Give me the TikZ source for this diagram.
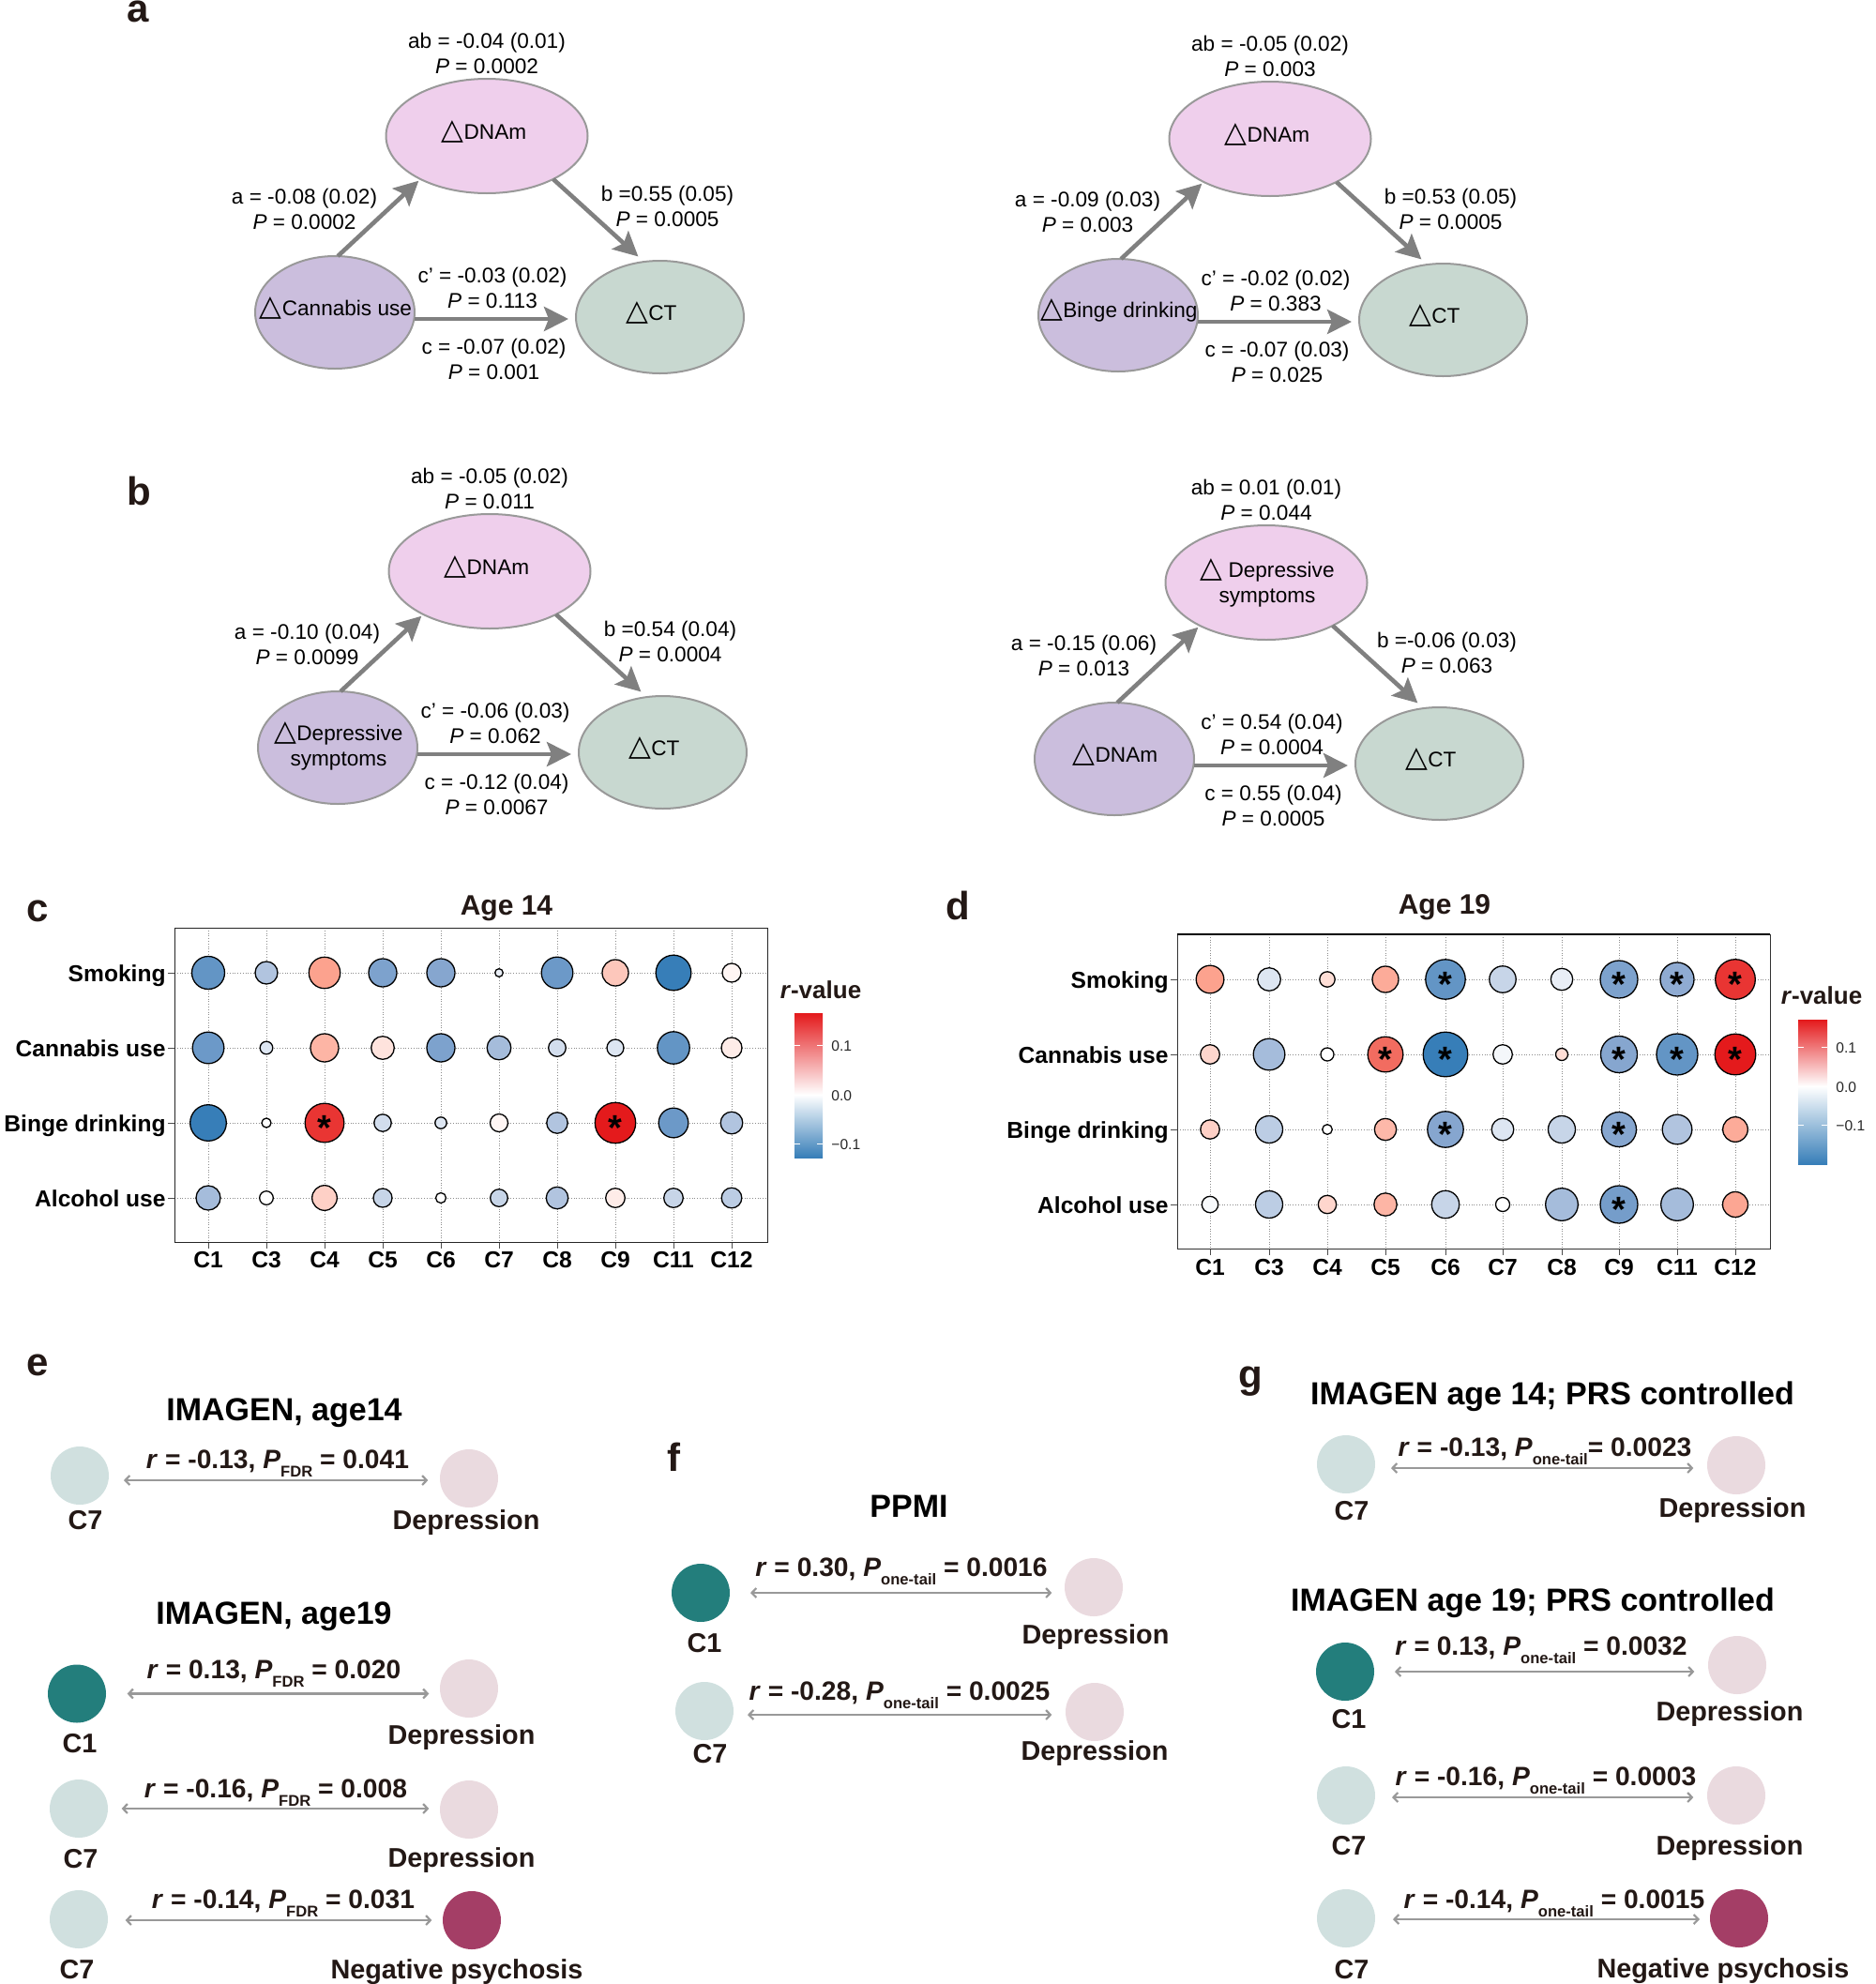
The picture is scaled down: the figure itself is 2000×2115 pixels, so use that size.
\documentclass[tikz,border=0pt]{standalone}
\usepackage{fontspec}
\setmainfont{Liberation Sans}
\newfontfamily\djv{DejaVu Sans}
\usetikzlibrary{arrows.meta,shapes.geometric,calc}
\definecolor{ink}{HTML}{231815}
\definecolor{bm}{HTML}{8FABD2}\definecolor{bb}{HTML}{377EB8}
\definecolor{rm}{HTML}{FCA28E}\definecolor{rr}{HTML}{E41A1C}
\colorlet{w}{white}
\colorlet{b3}{bm!6!white}\colorlet{b5}{bm!10!white}\colorlet{b10}{bm!20!white}\colorlet{b15}{bm!30!white}\colorlet{b20}{bm!40!white}\colorlet{b25}{bm!50!white}\colorlet{b30}{bm!60!white}\colorlet{b35}{bm!70!white}\colorlet{b40}{bm!80!white}\colorlet{b50}{bm}
\colorlet{b55}{bb!10!bm}\colorlet{b60}{bb!20!bm}\colorlet{b65}{bb!30!bm}\colorlet{b70}{bb!40!bm}\colorlet{b75}{bb!50!bm}\colorlet{b100}{bb}
\colorlet{r2}{rm!4!white}\colorlet{r5}{rm!10!white}\colorlet{r10}{rm!20!white}\colorlet{r15}{rm!30!white}\colorlet{r18}{rm!36!white}\colorlet{r22}{rm!44!white}\colorlet{r25}{rm!50!white}\colorlet{r30}{rm!60!white}\colorlet{r38}{rm!76!white}\colorlet{r40}{rm!80!white}\colorlet{r45}{rm!90!white}\colorlet{r48}{rm!96!white}\colorlet{r50}{rm}
\colorlet{r70}{rr!40!rm}\colorlet{r90}{rr!80!rm}\colorlet{r100}{rr}
\definecolor{pinkn}{HTML}{EFCFEC}\definecolor{purpn}{HTML}{CBBEDD}\definecolor{greenn}{HTML}{C8D8D0}
\definecolor{cseven}{HTML}{D0E0DF}\definecolor{cone}{HTML}{237E7C}\definecolor{depn}{HTML}{EADADF}\definecolor{negn}{HTML}{A43E66}
\newcommand{\dt}{{\djv\fontsize{15.5}{13.5}\selectfont △}}
\newcommand{\pv}[1]{\textit{P} = #1}
\tikzset{
 ell/.style={ellipse,draw=black!40,line width=1pt,inner sep=0pt,outer sep=0pt},
 lbl/.style={font=\fontsize{11.3}{13.5}\selectfont,align=center,inner sep=0pt,text=black},
 arr/.style={draw=black!50,line width=2.3pt,-{Stealth[length=13pt,width=13pt,inset=2.5pt]}},
 axl/.style={font=\bfseries\fontsize{12.3}{12.3}\selectfont,inner sep=0pt,text=black},
 ttl/.style={font=\bfseries\fontsize{15}{15}\selectfont,inner sep=0pt,text=ink},
 pan/.style={font=\bfseries\fontsize{21}{21}\selectfont,inner sep=0pt,text=ink,anchor=base},
 bub/.style={draw=black,line width=0.65pt},
 grd/.style={draw=black!45,line width=0.4pt,densely dotted},
 tickl/.style={font=\fontsize{7.8}{7.8}\selectfont,inner sep=0pt,text=black!85,anchor=west},
 star/.style={font=\bfseries\fontsize{19}{19}\selectfont,inner sep=0pt,text=black,anchor=base},
 blob/.style={circle,minimum size=31pt,inner sep=0pt,outer sep=0pt},
 dbl/.style={draw=black!40,line width=1.1pt,line cap=round,{Straight Barb[length=2.4pt,width=5pt]}-{Straight Barb[length=2.4pt,width=5pt]}},
 rlab/.style={font=\bfseries\fontsize{14.1}{14.1}\selectfont,inner sep=0pt,text=ink,yshift=-2pt},
 nlab/.style={font=\bfseries\fontsize{14.4}{14.4}\selectfont,inner sep=0pt,text=ink,yshift=-1pt},
 gttl/.style={font=\bfseries\fontsize{17}{17}\selectfont,inner sep=0pt,text=black,yshift=-2pt},
 tlbl/.style={},
 llbl/.style={},
}
\newcommand{\sbs}[1]{\raisebox{-0.3em}{\bfseries\fontsize{8.3}{8.3}\selectfont #1}}
\newcommand{\rt}[3]{\textit{r} = #1, \textit{P}\sbs{#2}#3}
% mediation triangle: prefix, left text, top text, ab, a, b, c', c
\newcommand{\tri}[8]{%
 \node[ell,fill=pinkn,minimum width=107.5pt,minimum height=61pt,label={[lbl,yshift=2.5pt,xshift=-1.5pt,tlbl]center:#3}] (#1m) at (519,145) {};
 \node[ell,fill=purpn,minimum width=85pt,minimum height=60pt,label={[lbl,yshift=2.5pt,xshift=0.5pt,llbl]center:#2}] (#1l) at (357,333) {};
 \node[ell,fill=greenn,minimum width=89.5pt,minimum height=60pt,label={[lbl,yshift=2.5pt,xshift=-4.5pt]center:\dt CT}] (#1c) at (703.5,338) {};
 \draw[arr,shorten >=1.3pt] (#1l.87) -- (#1m.213.7);
 \draw[arr,shorten >=4.2pt] (#1m.327.8) -- (#1c.106.2);
 \draw[arr,shorten >=4pt] (#1l.east |- 0,340) -- (#1c.west |- 0,340);
 \node[lbl] (#1ab) at (519,56.5) {#4};
 \node[lbl] (#1a) at (324.5,222.5) {#5};
 \node[lbl] (#1b) at (711.5,219.5) {#6};
 \node[lbl] (#1p) at (525,306.5) {#7};
 \node[lbl] (#1q) at (526.5,382.5) {#8};
}
\newcommand{\bubs}[2]{\foreach \xx/\rr/\cc in {#2}{\draw[bub,fill=\cc] (\xx,#1) circle (\rr);}}
\newcommand{\stars}[2]{\foreach \xx in {#2}{\path (\xx,#1) ++(0,18) node[star] {*};}}
\begin{document}
\begin{tikzpicture}[x=0.5pt,y=-0.5pt]
\useasboundingbox (0,0) rectangle (2000,2115);
% panels a, b
\node[pan] (pa) at (147,23) {a};
\node[pan] (pb) at (148,538) {b};
\begin{scope}
\tri{A}{\dt Cannabis use}{\dt DNAm}{ab = -0.04 (0.01)\\\pv{0.0002}}{a = -0.08 (0.02)\\\pv{0.0002}}{b =0.55 (0.05)\\\pv{0.0005}}{c' = -0.03 (0.02)\\\pv{0.113}}{c = -0.07 (0.02)\\\pv{0.001}}
\end{scope}
\begin{scope}[shift={(835,3)}]
\tri{B}{\dt Binge drinking}{\dt DNAm}{ab = -0.05 (0.02)\\\pv{0.003}}{a = -0.09 (0.03)\\\pv{0.003}}{b =0.53 (0.05)\\\pv{0.0005}}{c' = -0.02 (0.02)\\\pv{0.383}}{c = -0.07 (0.03)\\\pv{0.025}}
\end{scope}
\begin{scope}[shift={(3,464)},llbl/.style={yshift=-1.7pt}]
\tri{C}{\dt Depressive\\symptoms}{\dt DNAm}{ab = -0.05 (0.02)\\\pv{0.011}}{a = -0.10 (0.04)\\\pv{0.0099}}{b =0.54 (0.04)\\\pv{0.0004}}{c' = -0.06 (0.03)\\\pv{0.062}}{c = -0.12 (0.04)\\\pv{0.0067}}
\end{scope}
\begin{scope}[shift={(831,476)},tlbl/.style={yshift=-2.7pt,xshift=2pt}]
\tri{D}{\dt DNAm}{\dt\ Depressive\\symptoms}{ab = 0.01 (0.01)\\\pv{0.044}}{a = -0.15 (0.06)\\\pv{0.013}}{b =-0.06 (0.03)\\\pv{0.063}}{c' = 0.54 (0.04)\\\pv{0.0004}}{c = 0.55 (0.04)\\\pv{0.0005}}
\end{scope}
% panel c
\node[pan] (pc) at (40,982) {c};
\node[ttl] (tc) at (540,968.5) {Age 14};
\foreach \xx in {222,284,346,408,470,532,594,656,718,780}{\draw[grd] (\xx,989) -- (\xx,1324); \draw[black!70,line width=0.5pt] (\xx,1324) -- (\xx,1331);}
\foreach \yy/\tt in {1037/Smoking,1117/Cannabis use,1197/Binge drinking,1277/Alcohol use}{\draw[grd] (186,\yy) -- (818,\yy); \draw[black!70,line width=0.5pt] (179,\yy) -- (186,\yy); \node[axl,anchor=base east] at (177,\yy+9) {\tt};}
\foreach \xx/\tt in {222/C1,284/C3,346/C4,408/C5,470/C6,532/C7,594/C8,656/C9,718/C11,780/C12}{\node[axl] at (\xx,1343) {\tt};}
\draw[black!85,line width=0.5pt] (186,989) rectangle (818,1324);
\bubs{1037}{222/17.5/b75,284/12/b35,346/16.7/r50,408/15/b60,470/15/b55,532/4.3/b10,594/16.8/b70,656/14/r30,718/18.8/b100,780/10/r5}
\bubs{1117}{222/16.8/b70,284/6.8/b15,346/15/r40,408/12.3/r15,470/15/b60,532/12.8/b40,594/9.3/b20,656/9/b15,718/17.2/b75,780/11/r10}
\bubs{1197}{222/19.3/b100,284/5/w,346/20.8/r90,408/9.2/b20,470/6.2/b15,532/9.5/r5,594/11.2/b35,656/21.7/r100,718/15.8/b70,780/11.8/b35}
\bubs{1277}{222/13/b40,284/7.3/w,346/13.3/r25,408/10/b25,470/5.5/w,532/9.3/b25,594/11.7/b35,656/10.3/r10,718/10.3/b25,780/10.8/b30}
\stars{1197}{346,656}
\node[font=\bfseries\fontsize{13}{13}\selectfont,inner sep=0pt,text=ink] (rc) at (875,1055) {\textit{r}-value};
\shade[top color=rr,middle color=rm,bottom color=white] (847,1080) rectangle (877,1167);
\shade[top color=white,middle color=bm,bottom color=bb] (847,1167) rectangle (877,1234);
\foreach \yy/\tt in {1114/0.1,1167/0.0,1219/−0.1}{\draw[white,line width=0.5pt] (847,\yy) -- (853,\yy) (871,\yy) -- (877,\yy); \node[tickl] at (886,\yy+1.5) {\tt};}
% panel d
\node[pan] (pd) at (1021,980) {d};
\node[ttl] (td) at (1540,967.5) {Age 19};
\foreach \xx in {1290,1353,1415,1477,1541,1602,1665,1726,1788,1850}{\draw[grd] (\xx,996) -- (\xx,1331); \draw[black!70,line width=0.5pt] (\xx,1331) -- (\xx,1338);}
\foreach \yy/\tt in {1044/Smoking,1124/Cannabis use,1204/Binge drinking,1284/Alcohol use}{\draw[grd] (1255,\yy) -- (1887,\yy); \draw[black!70,line width=0.5pt] (1248,\yy) -- (1255,\yy); \node[axl,anchor=base east] at (1246,\yy+9) {\tt};}
\foreach \xx/\tt in {1290/C1,1353/C3,1415/C4,1477/C5,1541/C6,1602/C7,1665/C8,1726/C9,1788/C11,1850/C12}{\node[axl] at (\xx,1351) {\tt};}
\draw[black!80,line width=0.5pt] (1255,996) rectangle (1887,1331);
\draw[black,line width=0.9pt] (1255,996) -- (1887,996);
\bubs{1044}{1290/14.8/r50,1353/12.3/b15,1415/8.2/r18,1477/14/r45,1541/21.2/b75,1602/14.2/b25,1665/11.7/b10,1726/20/b60,1788/18/b50,1850/21.3/r90}
\bubs{1124}{1290/10.3/r22,1353/16.8/b40,1415/7/w,1477/18.8/r70,1541/23.8/b100,1602/10.3/b5,1665/6.5/r18,1726/19.5/b55,1788/22/b75,1850/21.8/r100}
\bubs{1204}{1290/10.2/r25,1353/14.5/b30,1415/5.3/w,1477/11.7/r38,1541/19.2/b55,1602/11.8/b15,1665/14.5/b25,1726/18.5/b55,1788/15.8/b35,1850/13.3/r45}
\bubs{1284}{1290/8.7/b3,1353/14.5/b30,1415/9.7/r22,1477/12.2/r40,1541/14.7/b25,1602/7.5/w,1665/17.3/b40,1726/20/b65,1788/17.3/b40,1850/13.5/r48}
\stars{1044}{1541,1726,1788,1850}
\stars{1124}{1477,1541,1726,1788,1850}
\stars{1204}{1541,1726}
\stars{1284}{1726}
\node[font=\bfseries\fontsize{13}{13}\selectfont,inner sep=0pt,text=ink] (rd) at (1942,1061) {\textit{r}-value};
\shade[top color=rr,middle color=rm,bottom color=white] (1917,1087) rectangle (1948,1158);
\shade[top color=white,middle color=bm,bottom color=bb] (1917,1158) rectangle (1948,1241);
\foreach \yy/\tt in {1116/0.1,1158/0.0,1199/−0.1}{\draw[white,line width=0.5pt] (1917,\yy) -- (1923,\yy) (1942,\yy) -- (1948,\yy); \node[tickl] at (1957,\yy+1) {\tt};}
% panel e
\node[pan] (pe) at (40,1466) {e};
\node[gttl] (te1) at (303,1502) {IMAGEN, age14};
\node[blob,fill=cseven] (e1c) at (85,1573) {};
\node[blob,fill=depn] (e1d) at (500,1576) {};
\draw[dbl,shorten <=8pt,shorten >=6.3pt] (e1c.east |- 0,1578) -- (e1d.west |- 0,1578);
\node[rlab] (e1r) at (296,1556) {\rt{-0.13}{FDR}{ = 0.041}};
\node[nlab] (e1cl) at (91,1619) {C7};
\node[nlab] (e1dl) at (497,1621) {Depression};
\node[gttl] (te2) at (292,1719) {IMAGEN, age19};
\node[blob,fill=cone] (e2c) at (82,1805.5) {};
\node[blob,fill=depn] (e2d) at (500,1800) {};
\draw[dbl,shorten <=11.3pt,shorten >=5.8pt] (e2c.east |- 0,1805.5) -- (e2d.west |- 0,1805.5);
\node[rlab] (e2r) at (292,1780) {\rt{0.13}{FDR}{ = 0.020}};
\node[nlab] (e2cl) at (85,1857) {C1};
\node[nlab] (e2dl) at (492,1850) {Depression};
\node[blob,fill=cseven] (e3c) at (84,1928) {};
\node[blob,fill=depn] (e3d) at (500,1929) {};
\draw[dbl,shorten <=7.3pt,shorten >=5.8pt] (e3c.east |- 0,1928) -- (e3d.west |- 0,1928);
\node[rlab] (e3r) at (294,1907) {\rt{-0.16}{FDR}{ = 0.008}};
\node[nlab] (e3cl) at (86,1980) {C7};
\node[nlab] (e3dl) at (492,1981) {Depression};
\node[blob,fill=cseven] (e4c) at (84,2046) {};
\node[blob,fill=negn] (e4d) at (503,2047) {};
\draw[dbl,shorten <=9.3pt,shorten >=5.8pt] (e4c.east |- 0,2047) -- (e4d.west |- 0,2047);
\node[rlab] (e4r) at (302,2025) {\rt{-0.14}{FDR}{ = 0.031}};
\node[nlab] (e4cl) at (82,2098) {C7};
\node[nlab] (e4dl) at (487,2100) {Negative psychosis};
% panel f
\node[pan] (pf) at (718,1568) {f};
\node[gttl,yshift=2pt] (tf) at (969,1606) {PPMI};
\node[blob,fill=cone] (f1c) at (747,1698) {};
\node[blob,fill=depn] (f1d) at (1166,1692) {};
\draw[dbl,shorten <=11pt,shorten >=6.8pt] (f1c.east |- 0,1698) -- (f1d.west |- 0,1698);
\node[rlab] (f1r) at (961,1671) {\rt{0.30}{one-tail}{ = 0.0016}};
\node[nlab] (f1cl) at (751,1750) {C1};
\node[nlab] (f1dl) at (1168,1743) {Depression};
\node[blob,fill=cseven] (f2c) at (751,1824) {};
\node[blob,fill=depn] (f2d) at (1167,1825) {};
\draw[dbl,shorten <=7.5pt,shorten >=7.3pt] (f2c.east |- 0,1828) -- (f2d.west |- 0,1828);
\node[rlab] (f2r) at (959,1803) {\rt{-0.28}{one-tail}{ = 0.0025}};
\node[nlab] (f2cl) at (757,1868) {C7};
\node[nlab] (f2dl) at (1167,1867) {Depression};
% panel g
\node[pan] (pg) at (1333,1479) {g};
\node[gttl] (tg1) at (1655,1485) {IMAGEN age 14; PRS controlled};
\node[blob,fill=cseven] (g1c) at (1435,1561) {};
\node[blob,fill=depn] (g1d) at (1851,1562) {};
\draw[dbl,shorten <=8.5pt,shorten >=7.3pt] (g1c.east |- 0,1565) -- (g1d.west |- 0,1565);
\node[rlab] (g1r) at (1647,1543) {\rt{-0.13}{one-tail}{= 0.0023}};
\node[nlab] (g1cl) at (1441,1609) {C7};
\node[nlab] (g1dl) at (1847,1608) {Depression};
\node[gttl] (tg2) at (1634,1705) {IMAGEN age 19; PRS controlled};
\node[blob,fill=cone] (g2c) at (1434,1782) {};
\node[blob,fill=depn] (g2d) at (1852,1775) {};
\draw[dbl,shorten <=11pt,shorten >=7.3pt] (g2c.east |- 0,1782) -- (g2d.west |- 0,1782);
\node[rlab] (g2r) at (1643,1755) {\rt{0.13}{one-tail}{ = 0.0032}};
\node[nlab] (g2cl) at (1438,1831) {C1};
\node[nlab] (g2dl) at (1844,1825) {Depression};
\node[blob,fill=cseven] (g3c) at (1435,1914) {};
\node[blob,fill=depn] (g3d) at (1851,1914) {};
\draw[dbl,shorten <=9pt,shorten >=7.3pt] (g3c.east |- 0,1916) -- (g3d.west |- 0,1916);
\node[rlab] (g3r) at (1648,1894) {\rt{-0.16}{one-tail}{ = 0.0003}};
\node[nlab] (g3cl) at (1438,1966) {C7};
\node[nlab] (g3dl) at (1844,1968) {Depression};
\node[blob,fill=cseven] (g4c) at (1435,2045) {};
\node[blob,fill=negn] (g4d) at (1854,2045) {};
\draw[dbl,shorten <=9.5pt,shorten >=5.5pt] (g4c.east |- 0,2046) -- (g4d.west |- 0,2046);
\node[rlab] (g4r) at (1657,2025) {\rt{-0.14}{one-tail}{ = 0.0015}};
\node[nlab] (g4cl) at (1441,2098) {C7};
\node[nlab] (g4dl) at (1837,2099) {Negative psychosis};
\end{tikzpicture}
\end{document}
